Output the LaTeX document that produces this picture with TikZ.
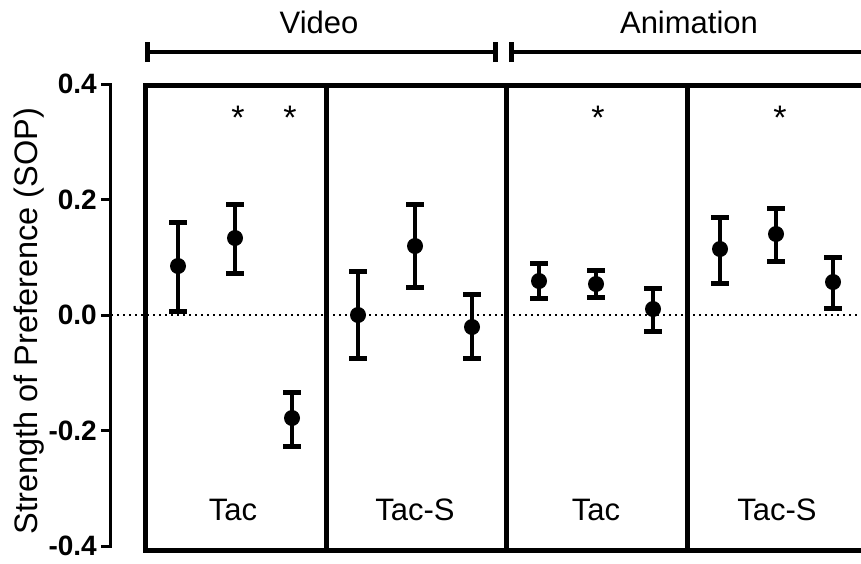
\documentclass[tikz,border=0pt]{standalone}
\usepackage{fontspec}
\setmainfont{Liberation Sans}
\tikzset{
  panel/.style={line width=5pt},
  axisline/.style={line width=3pt},
  barline/.style={line width=4pt},
  capline/.style={line width=5pt},
  bracketline/.style={line width=4.5pt},
  zeroline/.style={line width=1.6pt, dash pattern=on 1.6pt off 4.4pt},
  dot/.style={circle, fill=black, inner sep=0pt, minimum size=16pt},
  ticklab/.style={anchor=east, font=\fontsize{28}{32}\selectfont\bfseries, inner sep=0pt},
  biglab/.style={font=\fontsize{31}{36}\selectfont, inner sep=0pt},
  star/.style={font=\fontsize{34}{36}\selectfont, inner sep=0pt},
}
\newcommand\ebar[5]{%
  \draw[barline] (#2,#4) -- (#2,#5);
  \draw[capline] (#2-9,#4) -- (#2+9,#4);
  \draw[capline] (#2-9,#5) -- (#2+9,#5);
  \node[dot] (#1) at (#2,#3) {};
}
\begin{document}
\begin{tikzpicture}[x=1pt,y=-1pt]
\useasboundingbox (0,0) rectangle (861,563);
\clip (0,0) rectangle (861,563);
% zero line
\draw[zeroline] (111,315) -- (861,315);
% axis
\draw[axisline] (110,84) -- (110,546);
\foreach \yy/\lab in {84/0.4,199.5/0.2,315/0.0,430.5/-0.2,546/-0.4}{
  \draw[axisline] (101,\yy) -- (111.5,\yy);
  \node[ticklab] at (97,\yy) {\lab};
}
\node[font=\fontsize{32.5}{36}\selectfont, inner sep=0pt, rotate=90] (ylab) at (29,321) {Strength of Preference (SOP)};
% panels
\draw[panel] (145,85) rectangle (326,550);
\draw[panel] (326,85) rectangle (506,550);
\draw[panel] (506,85) rectangle (687,550);
\draw[panel] (687,85) rectangle (868,550);
% brackets
\coordinate (vl) at (147,52); \coordinate (vr) at (495,52);
\coordinate (al) at (511,52); \coordinate (ar) at (866,52);
\draw[bracketline] (vl) -- (vr);
\draw[bracketline] (al) -- (ar);
\foreach \c in {vl,vr,al,ar}{\draw[capline] ([yshift=-10pt]\c) -- ([yshift=10pt]\c);}
\node[biglab] (video) at (319,22) {Video};
\node[biglab] (anim) at (689,22) {Animation};
% panel labels
\node[biglab] (l1) at (233,510) {Tac};
\node[biglab] (l2) at (415,510) {Tac-S};
\node[biglab] (l3) at (596,510) {Tac};
\node[biglab] (l4) at (777,510) {Tac-S};
% stars
\node[star] (s1) at (238,118) {*};
\node[star] (s2) at (290,118) {*};
\node[star] (s3) at (598,118) {*};
\node[star] (s4) at (780,118) {*};
% data
\ebar{a1}{178}{266}{222}{311}
\ebar{a2}{235}{238}{204}{273}
\ebar{a3}{292}{418}{392}{446}
\ebar{b1}{358}{315}{271}{358}
\ebar{b2}{415}{246}{204}{287}
\ebar{b3}{472}{327}{294}{358}
\ebar{c1}{539}{281}{263}{298}
\ebar{c2}{596}{284}{270}{297}
\ebar{c3}{653}{309}{288}{331}
\ebar{d1}{720}{249}{217}{283}
\ebar{d2}{776}{234}{208}{261}
\ebar{d3}{833}{282}{257}{308}
\end{tikzpicture}
\end{document}
